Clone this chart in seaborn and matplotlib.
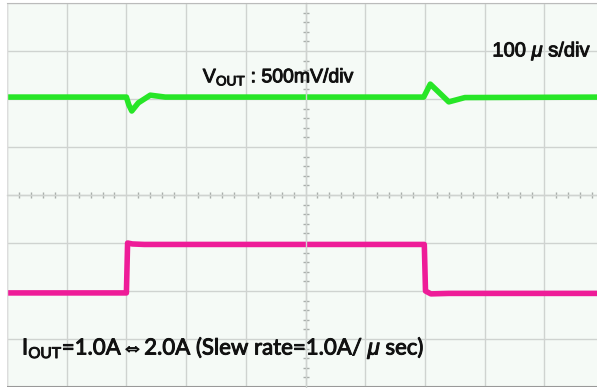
import numpy as np
import pandas as pd
import matplotlib
matplotlib.use("Agg")
import matplotlib.pyplot as plt
import matplotlib.patheffects as pe
import seaborn as sns

# scope traces in divisions (x: 0..10, y: -4..4)
vout_t = [0.0, 2.00, 2.04, 2.09, 2.20, 2.40, 2.65, 6.98, 7.09, 7.25, 7.40, 7.55, 7.67, 10.0]
vout_y = [2.04, 2.04, 1.88, 1.75, 1.92, 2.08, 2.04, 2.04, 2.31, 2.12, 1.94, 1.99, 2.03, 2.04]

iout_t = [0.0, 2.00, 2.02, 2.10, 2.30, 6.99, 7.01, 7.10, 7.40, 10.0]
iout_y = [-2.04, -2.04, -1.00, -1.02, -1.03, -1.03, -2.00, -2.06, -2.05, -2.05]

time_label = r"100 $\mu$ s/div"
vout_label = r"V$_{\mathrm{OUT}}$ : 500mV/div"
iout_label = r"I$_{\mathrm{OUT}}$=1.0A$\!\Leftrightarrow\!$2.0A (Slew rate=1.0A/ $\mu$ sec)"

GREEN = "#27e627"
MAGENTA = "#ee1c98"
GRID = "#cfd3d0"

sns.set_style("white")
plt.rcParams["font.family"] = ["Liberation Sans", "DejaVu Sans"]
plt.rcParams["mathtext.fontset"] = "custom"
plt.rcParams["mathtext.rm"] = "Liberation Sans"
plt.rcParams["mathtext.it"] = "Liberation Sans:italic"
plt.rcParams["mathtext.fallback"] = "stixsans"

fig = plt.figure(figsize=(5.97, 3.88), dpi=100)
fig.patch.set_facecolor("white")
# screen is cut off on the right, so the axes run past the figure edge
ax = fig.add_axes([7 / 597, 1 / 388, 597 / 597, 384 / 388])
ax.set_facecolor("#f5faf6")

vout = pd.DataFrame({"t": vout_t, "v": vout_y})
iout = pd.DataFrame({"t": iout_t, "v": iout_y})
sns.lineplot(data=vout, x="t", y="v", ax=ax, color=GREEN, lw=4.0,
             estimator=None, sort=False, solid_capstyle="butt")
sns.lineplot(data=iout, x="t", y="v", ax=ax, color=MAGENTA, lw=4.0,
             estimator=None, sort=False, solid_capstyle="butt")

ax.set_xlim(0, 10)
ax.set_ylim(-4, 4)
ax.set_xticks(np.arange(0, 11, 1))
ax.set_yticks(np.arange(-4, 5, 1))
ax.grid(True, color=GRID, lw=1.0)
ax.set_axisbelow(True)

# centre graticule with small ticks
ax.spines["left"].set_position(("data", 5))
ax.spines["bottom"].set_position(("data", 0))
for s in ["left", "bottom"]:
    ax.spines[s].set_color(GRID)
    ax.spines[s].set_linewidth(1.0)
for s in ["top", "right"]:
    ax.spines[s].set_color("#bbbbbb")
ax.axvline(0, color="#dddddd", lw=1.0)
ax.axhline(-4, color="#999999", lw=1.5)
ax.set_xticks(np.arange(0, 10.01, 0.2), minor=True)
ax.set_yticks(np.arange(-4, 4.01, 0.2), minor=True)
ax.tick_params(which="both", direction="inout", color="#a9aeab",
               bottom=True, left=True, labelbottom=False, labelleft=False)
ax.tick_params(which="major", length=0)
ax.tick_params(which="minor", length=5, width=1)
ax.set_xlabel("")
ax.set_ylabel("")

bold = [pe.withStroke(linewidth=0.7, foreground="#111111")]
ax.text(8.13, 3.0, time_label, fontsize=14.5, color="#111111", va="center",
        path_effects=bold)
ax.text(3.28, 2.45, vout_label, fontsize=14, color="#111111", va="center",
        path_effects=bold)
ax.text(0.25, -3.2, iout_label, fontsize=16, color="#111111", va="center",
        family=["Lato", "DejaVu Sans"], path_effects=bold)

fig.savefig("out.png", dpi=100)
